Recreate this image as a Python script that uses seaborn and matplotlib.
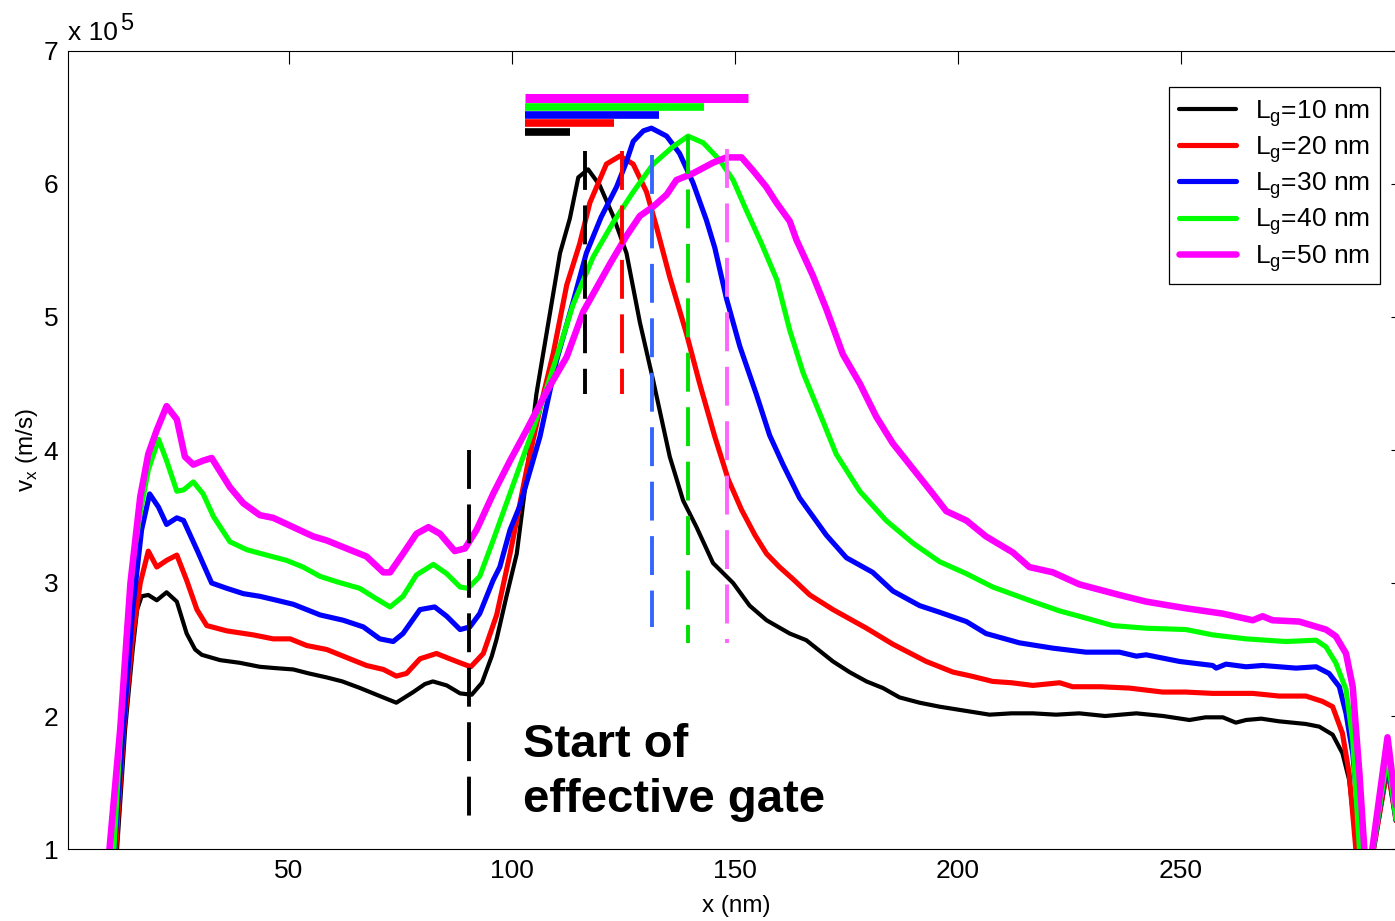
import numpy as np
import pandas as pd
import matplotlib
matplotlib.use('Agg')
import matplotlib.pyplot as plt
import seaborn as sns

# velocity profiles, v in units of 1e5 m/s, x in nm
x_10 = [10.0, 11.5, 13.3, 15.0, 16.0, 17.0, 18.5, 20.4, 22.6, 24.9, 27.1, 29.0, 30.5, 34.6, 39.0, 43.5, 47.0, 51.0,
        54.5, 58.5, 62.0, 66.0, 70.4, 74.1, 77.9, 80.5, 82.3, 85.4, 88.4, 91.0, 93.3, 95.5, 96.6, 98.8, 101.1,
        103.3, 105.5, 107.8, 110.8, 113.0, 114.9, 117.1, 119.7, 122.7, 125.7, 128.7, 131.7, 135.4, 138.4, 141.4,
        145.1, 149.6, 153.3, 157.1, 162.3, 166.0, 172.0, 175.7, 179.5, 183.2, 186.9, 191.4, 195.9, 201.5, 207.1,
        212.0, 216.8, 222.0, 227.2, 233.0, 240.0, 246.0, 251.9, 255.5, 259.4, 262.3, 264.6, 268.0, 272.0, 278.0,
        281.0, 284.0, 286.2, 287.7, 288.8, 289.6, 290.5, 292.0, 293.2, 296.3, 298.5, 300.0]
v_10 = [0.5, 1.0, 1.9, 2.5, 2.8, 2.9, 2.91, 2.87, 2.93, 2.86, 2.62, 2.5, 2.46, 2.42, 2.40, 2.37, 2.36, 2.35,
        2.32, 2.29, 2.26, 2.21, 2.15, 2.10, 2.18, 2.24, 2.26, 2.23, 2.17, 2.16, 2.25, 2.45, 2.58, 2.9, 3.22,
        3.8, 4.42, 4.88, 5.48, 5.74, 6.05, 6.11, 5.99, 5.76, 5.48, 4.96, 4.52, 3.95, 3.62, 3.42,
        3.15, 3.0, 2.83, 2.72, 2.62, 2.57, 2.41, 2.33, 2.26, 2.21, 2.14, 2.10, 2.07, 2.04, 2.01,
        2.02, 2.02, 2.01, 2.02, 2.00, 2.02, 2.00, 1.97, 1.99, 1.99, 1.95, 1.97, 1.98, 1.96, 1.94,
        1.92, 1.86, 1.72, 1.52, 1.19, 0.99, 0.6, 0.5, 1.0, 1.6, 1.15, 0.7]

x_20 = [10.0, 11.2, 13.0, 15.0, 16.7, 18.5, 20.4, 22.6, 24.9, 27.1, 29.4, 31.6, 36.1, 42.0, 46.5, 50.3, 54.0, 58.5,
        62.2, 67.4, 71.2, 74.1, 76.4, 79.4, 83.1, 86.1, 88.4, 90.8, 93.6, 96.6, 99.6, 103.3, 106.3, 109.3, 112.3,
        115.2, 117.5, 121.2, 124.2, 127.2, 130.2, 132.4, 135.4, 139.1, 142.1, 145.5, 148.5, 151.5, 154.5, 157.1,
        160.0, 163.0, 166.8, 172.0, 179.5, 185.4, 192.9, 198.9, 203.0, 207.8, 212.0, 216.8, 222.8, 225.7, 232.0,
        238.4, 245.9, 251.0, 257.1, 266.1, 272.0, 278.0, 281.7, 284.0, 286.2, 287.7, 289.2, 290.5, 292.0, 293.2,
        296.3, 298.5, 300.0]
v_20 = [0.5, 1.0, 1.9, 2.6, 3.0, 3.24, 3.12, 3.17, 3.21, 3.02, 2.80, 2.68, 2.64, 2.61, 2.58, 2.58, 2.53, 2.50,
        2.45, 2.38, 2.35, 2.30, 2.32, 2.43, 2.47, 2.43, 2.40, 2.37, 2.47, 2.76, 3.22, 3.85, 4.31, 4.73, 5.24,
        5.55, 5.86, 6.15, 6.21, 6.15, 5.94, 5.68, 5.30, 4.88, 4.50, 4.10, 3.78, 3.55, 3.36, 3.22,
        3.12, 3.03, 2.91, 2.80, 2.66, 2.54, 2.41, 2.33, 2.30, 2.26, 2.25, 2.23, 2.25, 2.22, 2.22,
        2.21, 2.18, 2.18, 2.17, 2.17, 2.15, 2.15, 2.11, 2.07, 1.87, 1.57, 1.0, 0.5, 0.5, 1.0,
        1.62, 1.15, 0.7]

x_30 = [9.5, 10.9, 12.9, 15.0, 17.0, 18.8, 20.8, 22.6, 24.9, 26.4, 29.4, 32.7, 36.1, 39.8, 43.5, 47.3, 51.0, 57.0,
        62.2, 66.7, 70.4, 73.4, 75.6, 79.4, 82.7, 85.4, 88.4, 90.6, 92.8, 95.8, 97.3, 99.6, 101.8, 106.3, 110.0,
        113.7, 116.7, 120.0, 123.5, 125.5, 127.2, 129.5, 131.3, 134.7, 137.6, 140.6, 143.6, 145.5, 148.1, 151.1,
        154.8, 157.8, 160.8, 164.5, 170.5, 175.0, 180.9, 185.4, 191.4, 195.9, 201.9, 206.3, 213.8, 221.3, 228.7,
        236.2, 240.0, 242.2, 249.7, 257.1, 257.9, 260.1, 264.6, 268.3, 275.8, 280.3, 283.2, 285.5, 287.0, 288.5,
        289.6, 290.4, 291.5, 292.3, 293.1, 296.3, 298.5, 300.0]
v_30 = [0.5, 1.0, 1.9, 2.8, 3.4, 3.67, 3.57, 3.44, 3.49, 3.47, 3.25, 3.00, 2.96, 2.92, 2.90, 2.87, 2.84, 2.76,
        2.72, 2.67, 2.58, 2.56, 2.62, 2.80, 2.82, 2.75, 2.65, 2.67, 2.77, 3.02, 3.12, 3.40, 3.58, 4.10, 4.67,
        5.11, 5.48, 5.75, 5.98, 6.15, 6.32, 6.40, 6.42, 6.36, 6.23, 6.01, 5.73, 5.52, 5.14, 4.78,
        4.42, 4.11, 3.89, 3.64, 3.36, 3.19, 3.08, 2.94, 2.83, 2.78, 2.71, 2.62, 2.55, 2.51, 2.48,
        2.48, 2.45, 2.46, 2.41, 2.38, 2.36, 2.39, 2.37, 2.38, 2.36, 2.37, 2.32, 2.22, 2.02, 1.72,
        1.32, 1.0, 0.5, 0.5, 1.0, 1.67, 1.15, 0.7]

x_40 = [9.5, 10.8, 12.5, 13.7, 15.2, 16.7, 18.5, 20.8, 22.6, 24.9, 26.4, 28.6, 30.8, 33.1, 36.8, 40.6, 45.0, 49.5,
        53.2, 57.0, 60.7, 65.9, 69.7, 72.7, 75.6, 78.6, 82.4, 85.4, 88.4, 90.2, 92.8, 95.8, 100.3, 104.8, 109.3,
        113.7, 118.2, 122.7, 127.2, 131.7, 136.1, 139.5, 142.9, 146.6, 149.6, 152.6, 156.0, 159.4, 162.3, 165.3,
        169.7, 172.7, 178.0, 183.9, 189.9, 195.9, 201.9, 207.8, 216.8, 222.8, 227.2, 234.7, 242.2, 251.1, 257.1,
        264.6, 273.5, 280.3, 282.5, 284.7, 287.0, 288.5, 290.0, 291.5, 292.3, 293.1, 296.3, 298.5, 300.0]
v_40 = [0.5, 1.0, 2.0, 2.65, 3.2, 3.53, 3.85, 4.08, 3.92, 3.69, 3.70, 3.76, 3.67, 3.50, 3.31, 3.25, 3.21, 3.17,
        3.12, 3.05, 3.01, 2.96, 2.88, 2.82, 2.90, 3.06, 3.14, 3.07, 2.97, 2.96, 3.05, 3.32, 3.74, 4.16, 4.62,
        5.09, 5.45, 5.71, 5.94, 6.15, 6.28, 6.36, 6.31, 6.18, 6.03, 5.80, 5.55, 5.28, 4.90, 4.58,
        4.22, 3.97, 3.69, 3.47, 3.30, 3.16, 3.07, 2.97, 2.86, 2.79, 2.75, 2.68, 2.66, 2.65, 2.61,
        2.58, 2.56, 2.57, 2.52, 2.40, 2.20, 1.82, 1.0, 0.5, 0.5, 1.0, 1.70, 1.15, 0.7]

x_50 = [8.5, 9.8, 12.2, 14.5, 16.7, 18.5, 20.4, 22.6, 24.9, 26.7, 28.6, 30.8, 32.7, 36.8, 39.8, 43.5, 46.5, 51.0,
        55.5, 58.5, 64.4, 67.4, 71.2, 72.7, 75.6, 78.6, 81.3, 83.9, 87.2, 89.5, 92.1, 95.8, 99.6, 103.3, 107.8,
        112.3, 116.0, 119.0, 122.0, 125.7, 128.7, 131.7, 134.7, 136.9, 140.6, 145.1, 148.1, 151.5, 154.1, 157.0,
        159.3, 162.3, 163.8, 167.5, 170.5, 174.2, 178.0, 181.7, 185.4, 189.9, 194.4, 197.4, 201.9, 206.3, 212.3,
        216.0, 221.3, 227.2, 236.2, 242.2, 251.1, 259.3, 266.1, 268.3, 270.5, 276.5, 282.5, 284.7, 287.0, 288.5,
        290.0, 291.1, 292.0, 292.9, 296.3, 298.5, 300.0]
v_50 = [0.5, 1.0, 1.9, 3.0, 3.65, 3.97, 4.15, 4.33, 4.23, 3.95, 3.89, 3.92, 3.94, 3.72, 3.60, 3.51, 3.49, 3.42,
        3.35, 3.32, 3.24, 3.20, 3.08, 3.08, 3.22, 3.37, 3.42, 3.37, 3.24, 3.26, 3.40, 3.67, 3.92, 4.15, 4.44,
        4.70, 5.04, 5.22, 5.40, 5.61, 5.76, 5.83, 5.92, 6.03, 6.08, 6.16, 6.20, 6.20, 6.10, 5.98,
        5.86, 5.72, 5.58, 5.31, 5.06, 4.72, 4.50, 4.25, 4.05, 3.86, 3.67, 3.54, 3.47, 3.35, 3.23,
        3.12, 3.08, 2.99, 2.91, 2.86, 2.81, 2.77, 2.72, 2.75, 2.72, 2.71, 2.65, 2.60, 2.47, 2.22,
        1.57, 1.0, 0.5, 1.0, 1.84, 1.25, 0.7]

labels = ['L$_\\mathregular{g}$=10 nm', 'L$_\\mathregular{g}$=20 nm', 'L$_\\mathregular{g}$=30 nm',
          'L$_\\mathregular{g}$=40 nm', 'L$_\\mathregular{g}$=50 nm']
colors = ['#000000', '#ff0000', '#0000ff', '#00ff00', '#ff00ff']
widths = [3.0, 3.7, 3.7, 3.7, 4.7]

# gate length bars and peak markers
gate_len = [10, 20, 30, 40, 50]
gate_start = 103.0
bar_y = [6.39, 6.455, 6.52, 6.58, 6.645]
peak_x = [116.4, 124.7, 131.4, 139.4, 148.2]
peak_top = [6.25, 6.25, 6.22, 6.37, 6.26]
peak_bottom = [4.42, 4.42, 2.67, 2.55, 2.55]
peak_colors = ['#000000', '#ff0000', '#3366ff', '#00e000', '#ff66ff']
eff_gate_x = 90.5

sns.set_style('white')
plt.rcParams['font.family'] = ['Liberation Sans', 'DejaVu Sans']
plt.rcParams['mathtext.fontset'] = 'custom'
plt.rcParams['mathtext.rm'] = 'Liberation Sans'
plt.rcParams['text.color'] = 'black'
plt.rcParams['axes.labelcolor'] = 'black'
plt.rcParams['xtick.color'] = 'black'
plt.rcParams['ytick.color'] = 'black'

fig = plt.figure(figsize=(13.95, 9.21), dpi=100)
ax = fig.add_axes([68 / 1395, 72 / 921, 1336 / 1395, 798 / 921])

xs = [x_10, x_20, x_30, x_40, x_50]
vs = [v_10, v_20, v_30, v_40, v_50]
for x, v, lab, c, lw in zip(xs, vs, labels, colors, widths):
    sns.lineplot(x=x, y=v, color=c, linewidth=lw, label=lab, ax=ax, estimator=None, sort=False)

# gate bars
for L, yb, c in zip(gate_len, bar_y, colors):
    ax.hlines(yb, gate_start, gate_start + L, color=c, linewidth=6.5 if L == 50 else 5.5)

# dashed peak markers
for px, t, b, c in zip(peak_x, peak_top, peak_bottom, peak_colors):
    ax.plot([px, px], [t, b], color=c, linewidth=2.8, dashes=(10, 4))

ax.plot([eff_gate_x, eff_gate_x], [4.0, 1.2], color='black', linewidth=2.8, dashes=(10, 4))

ax.text(102.6, 1.692, 'Start of', fontsize=34, fontweight='bold', va='baseline', ha='left')
ax.text(102.6, 1.278, 'effective gate', fontsize=34, fontweight='bold', va='baseline', ha='left')

ax.set_xlim(0.5, 300)
ax.set_ylim(1, 7)
ax.set_xticks([50, 100, 150, 200, 250, 300])
ax.set_xticklabels(['50', '100', '150', '200', '250', ''])
ax.set_yticks([1, 2, 3, 4, 5, 6, 7])
ax.tick_params(direction='in', length=9.4, width=0.8, top=True, right=True, labelsize=19, pad=7,
               color='black')
for s in ax.spines.values():
    s.set_linewidth(0.8)
    s.set_color('black')

ax.set_xlabel('x (nm)', fontsize=17.5)
ax.xaxis.set_label_coords(0.5, -0.058)
ax.xaxis.label.set_va('top')
ax.set_ylabel('v$_\\mathregular{x}$ (m/s)', fontsize=17.5)
ax.yaxis.set_label_coords(-0.021, 0.5)

fig.text(68 / 1395, 1 - 40 / 921, 'x 10', fontsize=19, ha='left', va='baseline')
fig.text(120 / 1395, 1 - 30 / 921, '5', fontsize=17, ha='left', va='baseline')

leg = ax.legend(loc='upper right', bbox_to_anchor=(1380 / 1395, 1 - 87 / 921), bbox_transform=fig.transFigure,
                fontsize=19, frameon=True, fancybox=False, edgecolor='black', framealpha=1,
                handlelength=2.15, handletextpad=0.7, labelspacing=0.2, borderpad=0.4, borderaxespad=0)
leg.get_frame().set_linewidth(0.9)

fig.savefig('out.png', dpi=100, facecolor='white')
